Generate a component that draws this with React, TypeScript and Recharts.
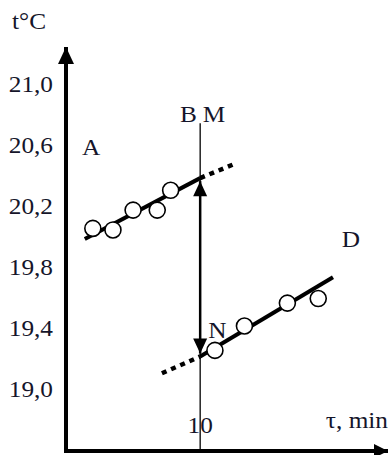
import React from 'react';
import {
  ComposedChart, Line, Scatter, XAxis, YAxis, ReferenceLine, ReferenceDot,
} from 'recharts';

const yTicks = [19.0, 19.4, 19.8, 20.2, 20.6, 21.0];
const xTicks = [10];

// measured temperatures, before and after the jump
const beforePoints = [
  { x: 2.0, y: 20.06 },
  { x: 3.5, y: 20.05 },
  { x: 5.0, y: 20.18 },
  { x: 6.8, y: 20.18 },
  { x: 7.8, y: 20.31 },
];
const afterPoints = [
  { x: 11.1, y: 19.26 },
  { x: 13.3, y: 19.42 },
  { x: 16.5, y: 19.57 },
  { x: 18.8, y: 19.6 },
];

// fitted lines + dotted extrapolation to tau = 10
const beforeFit = [{ x: 1.4, y: 19.99 }, { x: 10, y: 20.39 }];
const beforeExtra = [{ x: 10, y: 20.39 }, { x: 12.75, y: 20.49 }];
const afterFit = [{ x: 10, y: 19.22 }, { x: 19.9, y: 19.74 }];
const afterExtra = [{ x: 7.15, y: 19.11 }, { x: 10, y: 19.22 }];
const jump = [{ x: 10, y: 20.37 }, { x: 10, y: 19.24 }];
const markerLine = [{ x: 10, y: 20.75 }, { x: 10, y: 18.6 }];

const pointLabels = [
  { text: 'A', x: 1.2, y: 20.54, anchor: 'start' },
  { text: 'B', x: 9.75, y: 20.76, anchor: 'end' },
  { text: 'M', x: 10.2, y: 20.76, anchor: 'start' },
  { text: 'N', x: 10.6, y: 19.34, anchor: 'start' },
  { text: 'D', x: 20.55, y: 19.94, anchor: 'start' },
];

const FONT = '"Liberation Serif", "Times New Roman", serif';
const INK = '#15152a';

const Txt = ({ x, y, anchor = 'start', children }: any) => (
  <text
    transform={`translate(${x},${y}) scale(1.1,1)`}
    textAnchor={anchor}
    fontFamily={FONT}
    fontSize={23}
    fill={INK}
  >
    {children}
  </text>
);

const fmt = (v: number) => v.toFixed(1).replace('.', ',');

const YTick = (p: any) => (
  <Txt x={p.x} y={p.y + 7} anchor="end">{fmt(p.payload.value)}</Txt>
);
const XTick = (p: any) => (
  <Txt x={p.x} y={p.y} anchor="middle">{p.payload.value}</Txt>
);

const Circle = (p: any) => (
  <circle cx={p.cx} cy={p.cy} r={8} fill="#fff" stroke="#000" strokeWidth={1.6} />
);

const JumpHead = (p: any) => {
  const { cx, cy, index } = p;
  const d = index === 0 ? 15 : -15;
  return (
    <polygon
      key={`jh-${index}`}
      points={`${cx},${cy} ${cx - 7},${cy + d} ${cx + 7},${cy + d}`}
      fill="#000"
    />
  );
};

export default function App() {
  return (
    <div style={{ position: 'absolute', left: 0, top: 0 }}>
      <ComposedChart width={388} height={455} margin={{ top: 47, right: 0, bottom: 4, left: 6 }}>
        <XAxis
          type="number"
          dataKey="x"
          domain={[0, 24]}
          ticks={xTicks}
          interval={0}
          allowDataOverflow
          height={1}
          mirror
          tickSize={0}
          tickMargin={18}
          tickLine={false}
          axisLine={{ stroke: '#000', strokeWidth: 4, strokeLinecap: 'square' }}
          tick={XTick}
          label={(props: any) => {
            const vb = props.viewBox;
            return <Txt x={vb.x + vb.width} y={vb.y - 22} anchor="end">τ, min</Txt>;
          }}
        />
        <YAxis
          type="number"
          dataKey="y"
          domain={[18.6, 21.25]}
          ticks={yTicks}
          interval={0}
          allowDataOverflow
          width={60}
          tickSize={0}
          tickMargin={13}
          tickLine={false}
          axisLine={{ stroke: '#000', strokeWidth: 4 }}
          tick={YTick}
          label={(props: any) => {
            const vb = props.viewBox;
            return <Txt x={vb.x + 6} y={vb.y - 18}>t°C</Txt>;
          }}
        />
        <ReferenceLine segment={markerLine} stroke="#000" strokeWidth={1.3} ifOverflow="visible" />
        <ReferenceDot
          x={0}
          y={21.25}
          ifOverflow="visible"
          shape={(p: any) => (
            <polygon points={`${p.cx},${p.cy} ${p.cx - 8},${p.cy + 17} ${p.cx + 8},${p.cy + 17}`} fill="#000" />
          )}
        />
        <ReferenceDot
          x={24}
          y={18.6}
          ifOverflow="visible"
          shape={(p: any) => (
            <polygon points={`${p.cx},${p.cy} ${p.cx - 14},${p.cy - 7} ${p.cx - 14},${p.cy + 7}`} fill="#000" />
          )}
        />
        <Line data={beforeFit} dataKey="y" type="linear" stroke="#000" strokeWidth={4} dot={false} activeDot={false} isAnimationActive={false} />
        <Line data={beforeExtra} dataKey="y" type="linear" stroke="#000" strokeWidth={4.5} strokeDasharray="5 5" dot={false} activeDot={false} isAnimationActive={false} />
        <Line data={afterFit} dataKey="y" type="linear" stroke="#000" strokeWidth={4} dot={false} activeDot={false} isAnimationActive={false} />
        <Line data={afterExtra} dataKey="y" type="linear" stroke="#000" strokeWidth={4.5} strokeDasharray="5 5" dot={false} activeDot={false} isAnimationActive={false} />
        <Line data={jump} dataKey="y" type="linear" stroke="#000" strokeWidth={2.5} dot={JumpHead} activeDot={false} isAnimationActive={false} />
        <Scatter data={beforePoints} dataKey="y" shape={Circle} isAnimationActive={false} />
        <Scatter data={afterPoints} dataKey="y" shape={Circle} isAnimationActive={false} />
        {pointLabels.map((l) => (
          <ReferenceDot
            key={l.text}
            x={l.x}
            y={l.y}
            ifOverflow="visible"
            shape={(p: any) => <Txt x={p.cx} y={p.cy} anchor={l.anchor}>{l.text}</Txt>}
          />
        ))}
      </ComposedChart>
    </div>
  );
}
